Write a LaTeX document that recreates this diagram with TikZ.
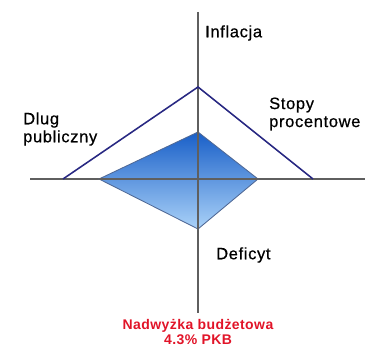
\documentclass[tikz,border=0pt]{standalone}
\usepackage{fontspec}
\setmainfont{Liberation Sans}
\newfontfamily\labelfont[LetterSpace=4,FakeBold=0.6]{Liberation Sans}
\newfontfamily\notefont[LetterSpace=3]{Liberation Sans}
\usepackage{tikz}

\definecolor{axisgray}{RGB}{95,95,95}
\definecolor{navyline}{RGB}{40,40,130}
\definecolor{darkfill}{RGB}{25,95,200}
\definecolor{lightfill}{RGB}{170,210,248}
\definecolor{edgeblue}{RGB}{80,105,150}
\definecolor{surplusred}{RGB}{225,20,40}

\tikzset{
  axislabel/.style={anchor=west,inner sep=0pt,align=left,font=\labelfont\fontsize{16.5}{18}\selectfont},
  axisline/.style={line width=.45mm,draw=axisgray}
}

\begin{document}
\begin{tikzpicture}[x=1pt,y=-1pt]
\useasboundingbox (0,0) rectangle (365,347);
% axes
\coordinate (top) at (198,12);
\coordinate (bottom) at (198,313);
\coordinate (left) at (30,179);
\coordinate (right) at (365,179);
\draw[axisline] (top) -- (bottom);
\draw[axisline] (left) -- (right);
% shaded area
\coordinate (inf) at (198,132);
\coordinate (sto) at (258,179);
\coordinate (def) at (198,229);
\coordinate (dlg) at (99,179);
\shade[top color=darkfill,bottom color=lightfill] (inf) -- (sto) -- (def) -- (dlg) -- cycle;
\draw[line width=.3mm,edgeblue] (inf) -- (sto) -- (def) -- (dlg) -- cycle;
\draw[axisline] (dlg) -- (sto);
\draw[axisline] (inf) -- (def);
% outer line
\coordinate (tl) at (63,179);
\coordinate (tt) at (198,87);
\coordinate (tr) at (313,179);
\draw[line width=.55mm,navyline] (tl) -- (tt) -- (tr);
% labels
\node[axislabel] (inflacja) at (205,33) {Inflacja};
\node[axislabel] (stopy) at (269,114) {Stopy\\procentowe};
\node[axislabel] (dlug) at (23,129) {Dlug\\publiczny};
\node[axislabel] (deficyt) at (216,255) {Deficyt};
\node[align=center,inner sep=0pt,text=surplusred,font=\notefont\bfseries\fontsize{14}{15}\selectfont] (nadwyzka) at (198,332) {Nadwyżka budżetowa\\4.3\% PKB};
\end{tikzpicture}
\end{document}
